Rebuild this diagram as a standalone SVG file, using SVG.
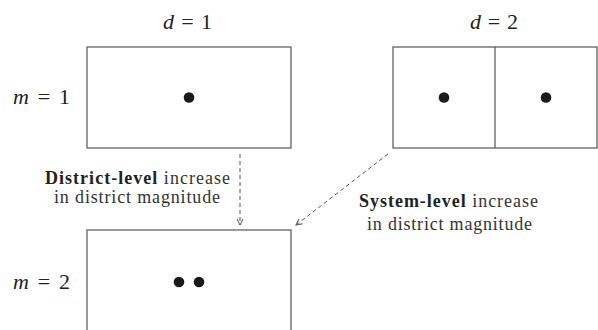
<svg xmlns="http://www.w3.org/2000/svg" width="598" height="330" viewBox="0 0 598 330">
<style>
.box{fill:#fff;stroke:#555;stroke-width:1.2}
.dot{fill:#1a1a1a}
.lbl{font-family:"Liberation Serif","DejaVu Serif",serif;font-size:22px;fill:#222}
.it{font-style:italic}
.cap{font-family:"Liberation Serif","DejaVu Serif",serif;font-size:18px;fill:#333}
.b{font-weight:bold;fill:#222}
.conn{fill:none;stroke:#555;stroke-width:1;stroke-dasharray:4 3}
</style>
<defs>
<marker id="ah" viewBox="0 0 8 8" refX="7" refY="4" markerWidth="8" markerHeight="8" orient="auto" markerUnits="userSpaceOnUse">
<path d="M1,1 L7,4 L1,7" fill="none" stroke="#555" stroke-width="1"/>
</marker>
</defs>
<text class="lbl" x="163" y="29" textLength="49" lengthAdjust="spacing"><tspan class="it">d</tspan> = 1</text>
<text class="lbl" x="470" y="29" textLength="48" lengthAdjust="spacing"><tspan class="it">d</tspan> = 2</text>
<text class="lbl" x="13" y="104" textLength="57" lengthAdjust="spacing"><tspan class="it">m</tspan> = 1</text>
<text class="lbl" x="13" y="289" textLength="57" lengthAdjust="spacing"><tspan class="it">m</tspan> = 2</text>
<g id="node-d1m1">
<rect class="box" x="87" y="47" width="204" height="101"/>
<circle class="dot" cx="189" cy="97.5" r="5.3"/>
</g>
<g id="node-d2m1">
<rect class="box" x="393" y="47" width="204" height="101"/>
<line x1="495" y1="47" x2="495" y2="148" stroke="#555" stroke-width="1.2"/>
<circle class="dot" cx="444" cy="97.5" r="5.3"/>
<circle class="dot" cx="546" cy="97.5" r="5.3"/>
</g>
<g id="node-d1m2">
<rect class="box" x="87" y="230" width="204" height="110"/>
<circle class="dot" cx="179" cy="282" r="5.3"/>
<circle class="dot" cx="199" cy="282" r="5.3"/>
</g>
<g id="connectors">
<line class="conn" x1="240" y1="154" x2="240" y2="225" marker-end="url(#ah)"/>
<line class="conn" x1="388" y1="154" x2="296" y2="225" marker-end="url(#ah)"/>
</g>
<text class="cap" x="45" y="184" textLength="185" lengthAdjust="spacing"><tspan class="b">District-level</tspan> increase</text>
<text class="cap" x="54" y="203" textLength="166" lengthAdjust="spacing">in district magnitude</text>
<text class="cap" x="359" y="207" textLength="179" lengthAdjust="spacing"><tspan class="b">System-level</tspan> increase</text>
<text class="cap" x="367" y="230" textLength="165" lengthAdjust="spacing">in district magnitude</text>
</svg>
